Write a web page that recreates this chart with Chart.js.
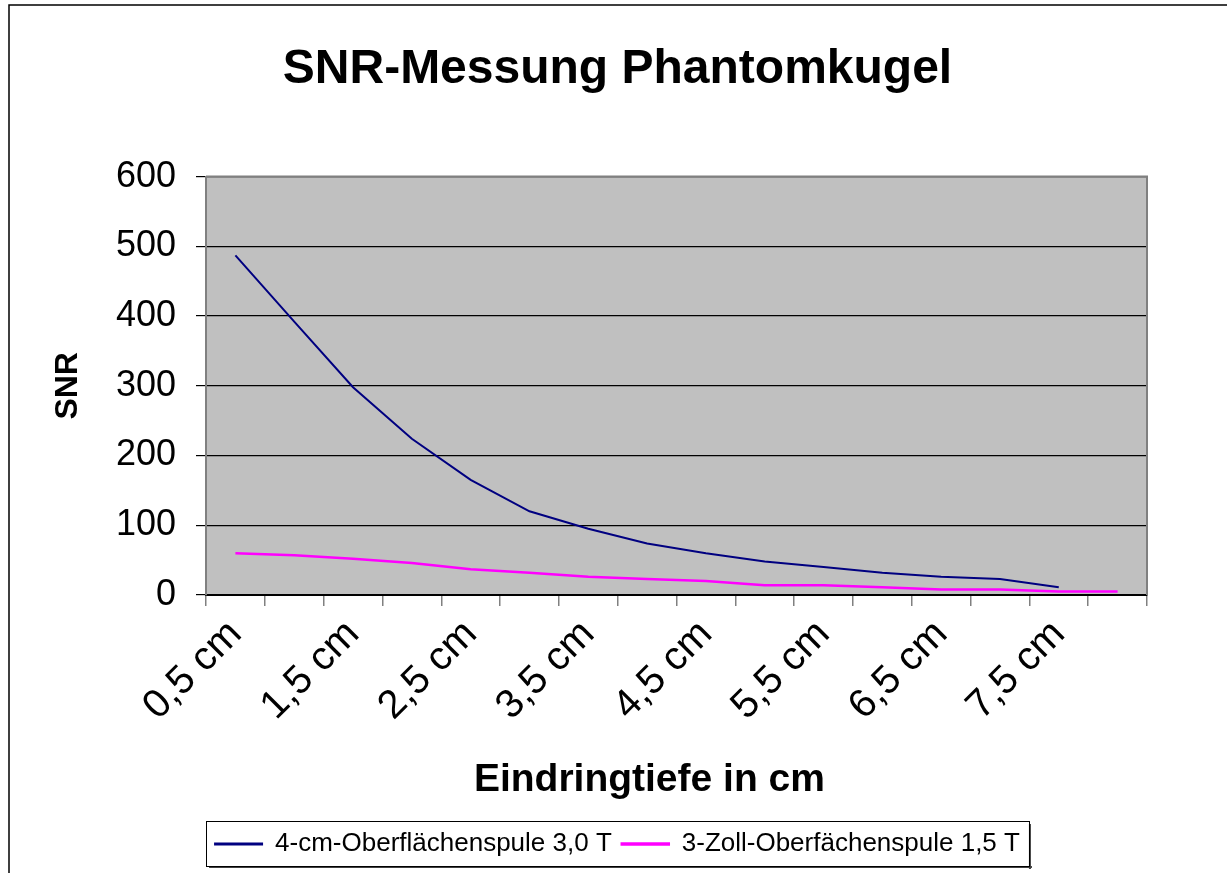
<!DOCTYPE html>
<html>
<head>
<meta charset="utf-8">
<script src="https://cdn.jsdelivr.net/npm/chart.js@4/dist/chart.umd.min.js"></script>
<style>
  html, body { margin: 0; padding: 0; background: #fff; overflow: hidden; }
  #wrap { width: 1227px; height: 873px; }
</style>
</head>
<body>
<div id="wrap"><canvas id="grph" width="1227" height="873"></canvas></div>
<script>
// data
const TIEFE = ["0,5 cm", "1,0 cm", "1,5 cm", "2,0 cm", "2,5 cm", "3,0 cm", "3,5 cm", "4,0 cm",
               "4,5 cm", "5,0 cm", "5,5 cm", "6,0 cm", "6,5 cm", "7,0 cm", "7,5 cm", "8,0 cm"];
const SPULE_4CM = [487, 392, 298, 224, 165, 120, 95, 74, 60, 48, 40, 32, 26, 23, 11];
const SPULE_3ZOLL = [60, 57, 52, 46, 37, 32, 26, 23, 20, 14, 14, 11, 8, 8, 5, 5];
const Y_TICKS = [0, 100, 200, 300, 400, 500, 600];

const NAMES = ["4-cm-Oberflächenspule 3,0 T", "3-Zoll-Oberfächenspule 1,5 T"];
const FONT = "'Liberation Sans', Arial, sans-serif";

//background, plot frame, outer frame, legend box
const deko = {
  id: "deko",
  beforeDraw(chart) {
    const c = chart.ctx, a = chart.chartArea;
    c.save();
    c.fillStyle = "#c0c0c0";
    c.fillRect(a.left, a.top, a.right - a.left, a.bottom - a.top);
    c.restore();
  },
  beforeDatasetsDraw(chart) {
    const c = chart.ctx, a = chart.chartArea;
    c.save();
    c.strokeStyle = "#808080";
    c.lineWidth = 2;
    c.beginPath();
    c.moveTo(a.left, a.top);
    c.lineTo(a.right, a.top);
    c.lineTo(a.right, a.bottom);
    c.stroke();
    c.restore();
  },
  afterDraw(chart) {
    const c = chart.ctx;
    c.save();
    c.strokeStyle = "#000";
    c.lineWidth = 1.5;
    c.beginPath();
    c.moveTo(9, 873);
    c.lineTo(9, 5);
    c.lineTo(1227, 5);
    c.stroke();

    const hb = chart.legend.legendHitBoxes;
    if (hb && hb.length) {
      let l = Infinity, r = -Infinity, t = Infinity, b = -Infinity;
      hb.forEach(h => {
        l = Math.min(l, h.left); r = Math.max(r, h.left + h.width);
        t = Math.min(t, h.top); b = Math.max(b, h.top + h.height);
      });
      l -= 9; r += 9; t -= 10; b += 9;
      c.fillStyle = "#404040";
      c.fillRect(l + 3, b, r - l, 2);
      c.fillRect(r, t + 3, 2, b - t);
      c.strokeStyle = "#000";
      c.lineWidth = 1;
      c.strokeRect(Math.round(l) + 0.5, Math.round(t) + 0.5, Math.round(r - l), Math.round(b - t));
    }
    c.restore();
  }
};

new Chart(document.getElementById("grph"), {
  type: "line",
  data: {
    labels: TIEFE,
    datasets: [{
      label: NAMES[0],
      data: SPULE_4CM,
      borderColor: "#000080",
      backgroundColor: "#000080",
      borderWidth: 2,
      pointRadius: 0,
      tension: 0,
      fill: false
    }, {
      label: NAMES[1],
      data: SPULE_3ZOLL,
      borderColor: "#ff00ff",
      backgroundColor: "#ff00ff",
      borderWidth: 2.5,
      pointRadius: 0,
      tension: 0,
      fill: false
    }]
  },
  options: {
    responsive: false,
    animation: false,
    layout: { padding: { left: 8, right: 0, top: 0, bottom: 6 } },
    plugins: {
      title: {
        display: true,
        text: "SNR-Messung Phantomkugel",
        color: "#000",
        font: { family: FONT, size: 48, weight: "bold", lineHeight: 1.2 },
        padding: { top: 41, bottom: 78 }
      },
      legend: {
        position: "bottom",
        labels: {
          color: "#000",
          font: { family: FONT, size: 26 },
          boxWidth: 47,
          boxHeight: 1,
          padding: 10
        }
      },
      tooltip: { enabled: false }
    },
    scales: {
      x: {
        offset: true,
        grid: { offset: true, drawOnChartArea: false, drawTicks: true, tickLength: 11, color: "#808080", lineWidth: 1.5 },
        border: { color: "#000", width: 2 },
        ticks: {
          autoSkip: false,
          minRotation: 45,
          maxRotation: 45,
          padding: 5,
          color: "#000",
          font: { family: FONT, size: 40 },
          callback: function (v, i) { return i % 2 === 0 ? TIEFE[i] : ""; }
        },
        title: {
          display: true,
          text: "Eindringtiefe in cm     ",
          color: "#000",
          font: { family: FONT, size: 39, weight: "bold", lineHeight: 1.2 },
          padding: { top: 0, bottom: 17 }
        },
        afterFit: function (s) { s.height = 226; }
      },
      y: {
        min: Y_TICKS[0],
        max: Y_TICKS[Y_TICKS.length - 1],
        grid: { color: "#000", lineWidth: 1.2, tickLength: 10 },
        border: { color: "#808080", width: 2 },
        ticks: {
          stepSize: 100,
          padding: 20,
          color: "#000",
          font: { family: FONT, size: 36 }
        },
        title: {
          display: true,
          text: "SNR",
          color: "#000",
          font: { family: FONT, size: 32, weight: "bold", lineHeight: 1.2 },
          padding: { top: 41, bottom: 0 }
        },
        afterFit: function (s) { s.width = 198; }
      },
      rand: {
        type: "linear",
        position: "right",
        grid: { display: false },
        ticks: { display: false },
        border: { display: false },
        afterFit: function (s) { s.width = 80; }
      }
    }
  },
  plugins: [deko]
});
</script>
</body>
</html>
